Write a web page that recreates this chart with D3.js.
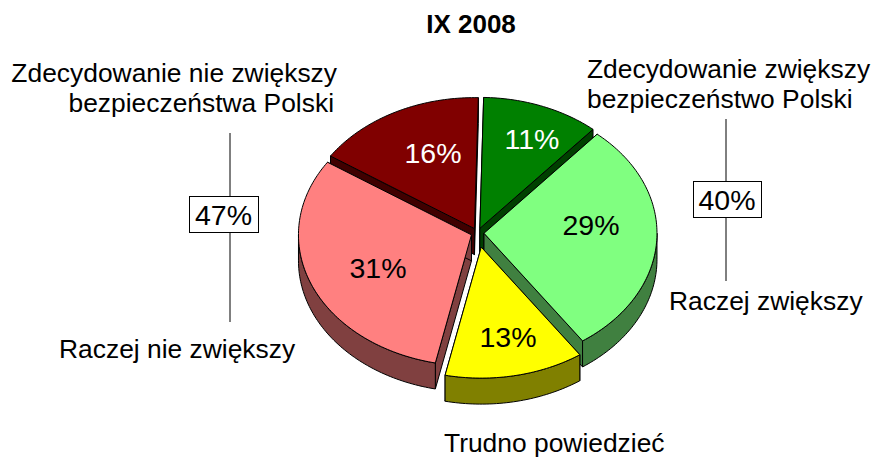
<!DOCTYPE html>
<html lang="pl">

<head>
  <meta charset="UTF-8">
  <title>IX 2008</title>
  <script src="https://d3js.org/d3.v7.min.js"></script>
</head>
<style>
  body { margin: 0; background: #fff; }
  text { font-family: "Liberation Sans", Arial, sans-serif; }
</style>

<body>
  <svg width="874" height="457"></svg>
</body>
<script>

  const title = 'IX 2008';
  const slices = ['Zdecydowanie zwiększy', 'Raczej zwiększy', 'Trudno powiedzieć', 'Raczej nie zwiększy', 'Zdecydowanie nie zwiększy'];
  const values = [11, 29, 13, 31, 16];
  const groupTotals = [47, 40];

  const topColors = ['#008000', '#80ff80', '#ffff00', '#ff8080', '#800000'];
  const sideColors = ['#004000', '#408040', '#808000', '#804040', '#400000'];
  const valueColors = ['#fff', '#000', '#000', '#000', '#fff'];
  const explode = [6.5, 6.5, 19, 6.5, 6.5];

  const svg = d3.select('svg');

  const cx = 477.5, cy = 233, rx = 173, ry = 131, depth = 26;

  // pie is turned a little clockwise from 12 o'clock
  const rot = 0.022;
  const pie = d3.pie().sort(null).value(d => d).startAngle(rot).endAngle(2 * Math.PI + rot);
  const arcs = pie(values).map((d, i) => ({ ...d, i }));

  // angle is clockwise from top, like d3.pie
  const project = (a, r, o) => [o[0] + r * rx * Math.sin(a), o[1] - r * ry * Math.cos(a)];
  const line = d3.line();

  function arcPoints(a0, a1, o) {
    const n = Math.max(2, Math.ceil((a1 - a0) / 0.02));
    return d3.range(n + 1).map(k => project(a0 + (a1 - a0) * k / n, 1, o));
  }
  const down = p => [p[0], p[1] + depth];

  // back slices first so the front ones cover them
  const order = [4, 0, 1, 3, 2];
  const pieG = svg.append('g').attr('class', 'pie');

  order.forEach(i => {
    const d = arcs[i];
    const mid = (d.startAngle + d.endAngle) / 2;
    const o = [cx + explode[i] * Math.sin(mid), cy - explode[i] * (ry / rx) * Math.cos(mid)];
    const g = pieG.append('g').attr('class', 'slice');
    const stroke = sel => sel.attr('fill', sideColors[i]).attr('stroke', '#000').attr('stroke-width', 1).attr('stroke-linejoin', 'round');

    // radial walls
    [d.startAngle, d.endAngle].forEach(a => {
      const e = project(a, 1, o);
      g.append('path').attr('d', line([o, e, down(e), down(o)]) + 'Z').call(stroke);
    });

    // outer wall, only the part facing the viewer
    const a0 = Math.max(d.startAngle, Math.PI / 2);
    const a1 = Math.min(d.endAngle, Math.PI * 1.5);
    if (a1 > a0) {
      const pts = arcPoints(a0, a1, o);
      g.append('path').attr('d', line(pts.concat(pts.map(down).reverse())) + 'Z').call(stroke);
    }

    g.append('path')
      .attr('d', line([o].concat(arcPoints(d.startAngle, d.endAngle, o))) + 'Z')
      .attr('fill', topColors[i]).attr('stroke', '#000').attr('stroke-width', 1).attr('stroke-linejoin', 'round');
  });

  // values on slices
  const valuePos = [[532, 139.5], [591, 225], [508, 337], [378, 268], [433, 153.5]];
  svg.append('g').selectAll('text').data(values).join('text')
    .attr('x', (d, i) => valuePos[i][0])
    .attr('y', (d, i) => valuePos[i][1])
    .attr('dy', '0.35em')
    .attr('text-anchor', 'middle')
    .attr('font-size', 28.5)
    .attr('fill', (d, i) => valueColors[i])
    .text(d => d + '%');

  svg.append('text').attr('x', 471).attr('y', 33)
    .attr('text-anchor', 'middle').attr('font-size', 26).attr('font-weight', 'bold').text(title);

  // category labels
  const labelRows = [
    { t: 'Zdecydowanie nie zwiększy', x: 337, y: 82, a: 'end' },
    { t: 'bezpieczeństwa Polski', x: 334, y: 112, a: 'end' },
    { t: 'Zdecydowanie zwiększy', x: 587, y: 78, a: 'start' },
    { t: 'bezpieczeństwo Polski', x: 587, y: 108, a: 'start' },
    { t: slices[1], x: 669, y: 310, a: 'start' },
    { t: slices[3], x: 59, y: 358, a: 'start' },
    { t: slices[2], x: 444, y: 451.5, a: 'start' }
  ];
  svg.append('g').selectAll('text').data(labelRows).join('text')
    .attr('x', d => d.x).attr('y', d => d.y)
    .attr('text-anchor', d => d.a).attr('font-size', 26.4).text(d => d.t);

  // bracket lines with the summed value
  const brackets = [
    { x: 230, y0: 133, y1: 322, bx: 189, by: 196, bw: 69, bh: 36 },
    { x: 726, y0: 119, y1: 281, bx: 693, by: 181, bw: 68, bh: 36 }
  ];
  brackets.forEach((b, i) => {
    svg.append('line').attr('x1', b.x).attr('x2', b.x).attr('y1', b.y0).attr('y2', b.y1).attr('stroke', '#000');
    svg.append('rect').attr('x', b.bx + 0.5).attr('y', b.by + 0.5).attr('width', b.bw).attr('height', b.bh)
      .attr('fill', '#fff').attr('stroke', '#000');
    svg.append('text').attr('x', b.bx + b.bw / 2).attr('y', b.by + b.bh / 2 + 1.5).attr('dy', '0.35em')
      .attr('text-anchor', 'middle').attr('font-size', 28.5).text(groupTotals[i] + '%');
  });

</script>

</html>
